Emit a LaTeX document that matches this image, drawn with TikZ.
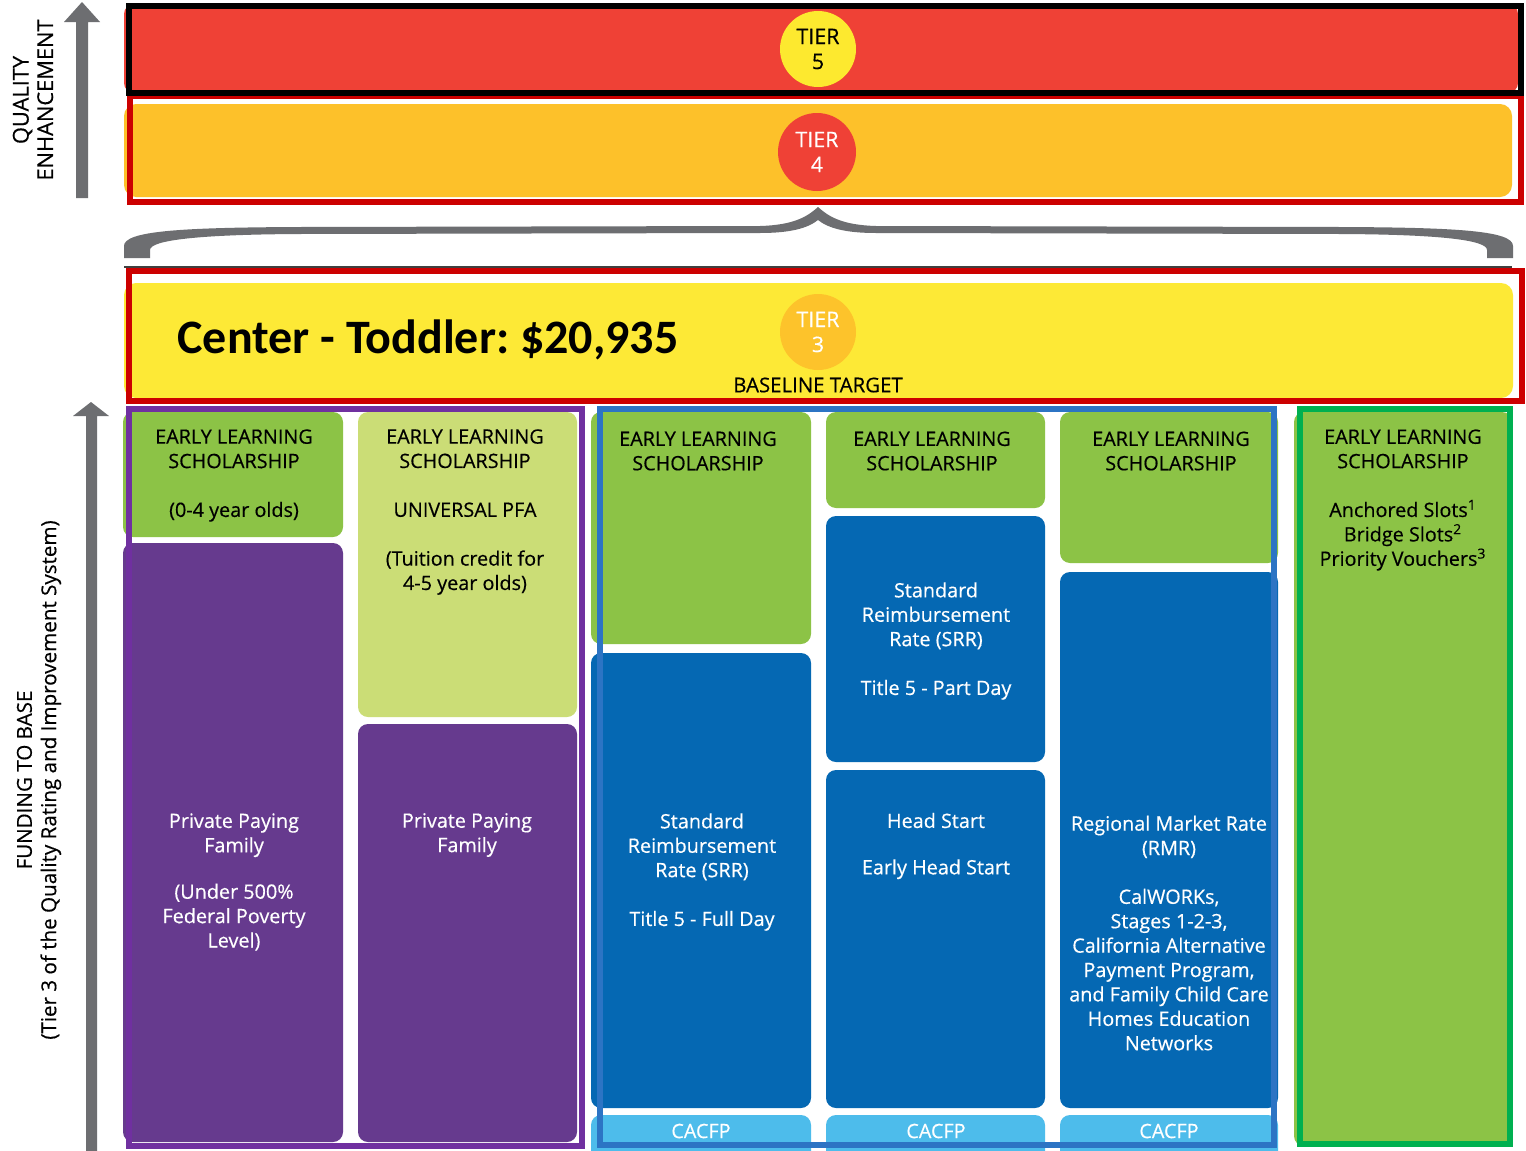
\documentclass[tikz,border=0pt]{standalone}
\usepackage{fontspec}
\setmainfont{Open Sans}
\newfontfamily\med{Open Sans}[FakeBold=0.4]
\newfontfamily\carlito{Carlito}
\frenchspacing
\definecolor{tfivered}{HTML}{EF4136}
\definecolor{tyellow}{HTML}{FDE92F}
\definecolor{tamber}{HTML}{FDC12A}
\definecolor{bordred}{HTML}{CC0000}
\definecolor{tyellowb}{HTML}{FDE936}
\definecolor{tcircle}{HTML}{FDC32B}
\definecolor{arrgray}{HTML}{6D6E71}
\definecolor{elsgreen}{HTML}{8CC346}
\definecolor{lightgreen}{HTML}{CBDD76}
\definecolor{purplebox}{HTML}{663A8E}
\definecolor{purpleline}{HTML}{7030A0}
\definecolor{bluebox}{HTML}{0568B3}
\definecolor{blueline}{HTML}{2C74C4}
\definecolor{cacfp}{HTML}{4DBCEB}
\definecolor{greenline}{HTML}{00B050}
\begin{document}
\begin{tikzpicture}[x=0.5pt,y=-0.5pt,
  lbl/.style={font=\med\fontsize{9.9}{12.2}\selectfont, align=center, inner sep=0pt, text=black},
  wlbl/.style={lbl, text=white},
  sidelbl/.style={font=\med\fontsize{10.3}{12.2}\selectfont, align=center, inner sep=0pt, rotate=90},
  tiercirc/.style={circle, minimum size=38pt, inner sep=0pt, align=center, font=\med\fontsize{10.7}{12.5}\selectfont},
  boxr/.style={rounded corners=5pt},
  outline/.style={line width=3pt}]
\clip (0,0) rectangle (1526,1151);
\fill[white] (0,0) rectangle (1526,1151);

% ---------------- arrows ----------------
\fill[arrgray] (76,198) -- (76,22) -- (64,22) -- (82,2) -- (100,22) -- (88,22) -- (88,198) -- cycle;
\fill[arrgray] (86,1160) -- (86,416) -- (73,416) -- (91,402) -- (109,416) -- (97,416) -- (97,1160) -- cycle;
\node[sidelbl, font=\med\fontsize{10.9}{12.2}\selectfont] (qe) at (33,100) {QUALITY\\ENHANCEMENT};
\node[sidelbl] (fb) at (39,780) {FUNDING TO BASE\\(Tier 3 of the Quality Rating and Improvement System)};

% ---------------- tier 5 / tier 4 ----------------
\fill[tfivered, boxr] (124,4) rectangle (1518,93);
\fill[tamber, rounded corners=6pt] (124,104) rectangle (1512,197);
\draw[bordred, outline] (129.5,96) rectangle (1521,201.5);
\draw[black, outline] (129,6) rectangle (1521,92.5);
\node[tiercirc, fill=tyellow, text=black] (t5) at (818,49) {TIER\\5};
\node[tiercirc, fill=tfivered, text=white, minimum size=39pt] (t4) at (817,152) {TIER\\4};

% ---------------- brace ----------------
\fill[arrgray] (124,258) -- (124,246) .. controls (124,231) and (180,227.5) .. (300,227) -- (760,226)
  .. controls (795,225) and (808,216) .. (818,207) .. controls (828,216) and (841,225) .. (876,226)
  -- (1340,227) .. controls (1460,227.5) and (1513,231) .. (1513,246) -- (1513,258) -- (1487,258)
  -- (1487,250) .. controls (1487,240) and (1440,234.5) .. (1340,234) -- (876,233)
  .. controls (845,233) and (828,228) .. (818,220) .. controls (808,228) and (791,233) .. (760,233)
  -- (300,234) .. controls (200,234.5) and (150,240) .. (150,250) -- (150,258) -- cycle;
\draw[line width=1pt, black!75] (124,266.5) -- (1512,266.5);

% ---------------- tier 3 ----------------
\fill[tyellowb, rounded corners=6pt] (124,283) rectangle (1513,398);
\draw[bordred, outline] (128.5,271) rectangle (1522,401);
\node[inner sep=0pt, font=\carlito\bfseries\fontsize{24}{28}\selectfont] (price) at (428,340) {Center - Toddler: \$20,935};
\node[tiercirc, fill=tcircle, text=white] (t3) at (818,332) {TIER\\3};
\node[inner sep=0pt, font=\med\fontsize{10.2}{12}\selectfont] (base) at (818,385) {BASELINE TARGET};

% ---------------- column 1 ----------------
\fill[elsgreen, boxr] (123,412) rectangle (343,537);
\fill[purplebox, boxr] (123,543) rectangle (343,1142);
\node[lbl] (c1a) at (234,475.5) {EARLY LEARNING\\SCHOLARSHIP\\[12.2pt](0-4 year olds)};
\node[wlbl] (c1b) at (234,882) {Private Paying\\Family\\[11pt](Under 500\%\\Federal Poverty\\Level)};

% ---------------- column 2 ----------------
\fill[lightgreen, boxr] (358,412) rectangle (577,717);
\fill[purplebox, boxr] (358,724) rectangle (577,1142);
\node[lbl] (c2a) at (465,512) {EARLY LEARNING\\SCHOLARSHIP\\[12.2pt]UNIVERSAL PFA\\[12.2pt](Tuition credit for\\4-5 year olds)};
\node[wlbl] (c2b) at (467,835) {Private Paying\\Family};

% ---------------- column 3 ----------------
\fill[elsgreen, boxr] (591,412) rectangle (811,644);
\fill[bluebox, boxr] (591,653) rectangle (811,1108);
\fill[cacfp, boxr] (591,1115) rectangle (811,1170);
\node[lbl] (c3a) at (698,451) {EARLY LEARNING\\SCHOLARSHIP};
\node[wlbl] (c3b) at (702,872) {Standard\\Reimbursement\\Rate (SRR)\\[12.2pt]Title 5 - Full Day};
\node[wlbl] (c3c) at (701,1131) {CACFP};

% ---------------- column 4 ----------------
\fill[elsgreen, boxr] (826,412) rectangle (1045,508);
\fill[bluebox, boxr] (826,516) rectangle (1045,762);
\fill[bluebox, boxr] (826,770) rectangle (1045,1108);
\fill[cacfp, boxr] (826,1115) rectangle (1045,1170);
\node[lbl] (c4a) at (932,451) {EARLY LEARNING\\SCHOLARSHIP};
\node[wlbl] (c4b) at (936,641) {Standard\\Reimbursement\\Rate (SRR)\\[12.2pt]Title 5 - Part Day};
\node[wlbl] (c4c) at (936,846) {Head Start\\[11pt]Early Head Start};
\node[wlbl] (c4d) at (936,1131) {CACFP};

% ---------------- column 5 ----------------
\fill[elsgreen, boxr] (1060,412) rectangle (1278,563);
\fill[bluebox, boxr] (1060,572) rectangle (1278,1108);
\fill[cacfp, boxr] (1060,1115) rectangle (1278,1170);
\node[lbl] (c5a) at (1171,451) {EARLY LEARNING\\SCHOLARSHIP};
\node[wlbl] (c5b) at (1169,933) {Regional Market Rate\\(RMR)\\[12.2pt]CalWORKs,\\Stages 1-2-3,\\California Alternative\\Payment Program,\\and Family Child Care\\Homes Education\\Networks};
\node[wlbl] (c5c) at (1169,1131) {CACFP};

% ---------------- column 6 ----------------
\fill[elsgreen, boxr] (1294,412) rectangle (1512,1146);
\node[lbl] (c6a) at (1403,500) {EARLY LEARNING\\SCHOLARSHIP\\[12.2pt]Anchored Slots\textsuperscript{1}\\Bridge Slots\textsuperscript{2}\\Priority Vouchers\textsuperscript{3}};

% ---------------- group outlines ----------------
\draw[purpleline, outline] (129,408.5) rectangle (582,1146);
\draw[blueline, outline] (600,408.5) rectangle (1274,1145);
\draw[greenline, outline] (1300,408.5) rectangle (1510,1144);
\end{tikzpicture}
\end{document}
